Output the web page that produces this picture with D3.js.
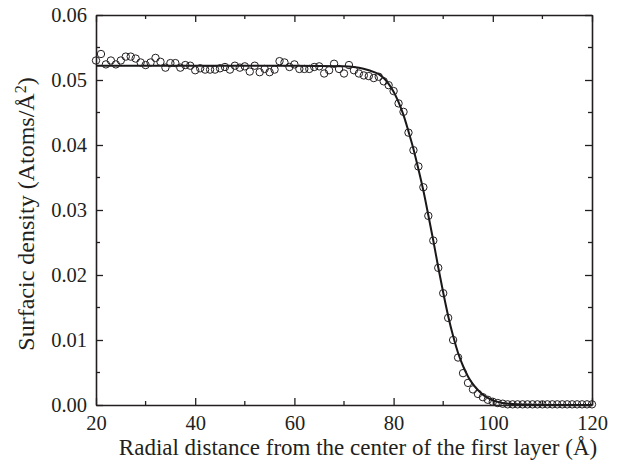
<!DOCTYPE html>
<html>
<head>
<meta charset="utf-8">
<script src="https://cdn.jsdelivr.net/npm/d3@7"></script>
<style>
  html, body { margin: 0; padding: 0; background: #fff; }
  svg { display: block; }
  text { font-family: "Liberation Serif", "Times New Roman", serif; fill: #231f20; }
</style>
</head>
<body>
<svg id="chart" width="618" height="470"></svg>
<script>
// Radial positions of the simulated points (Å)
const radius = [
  20, 21, 22, 23, 24, 25, 26, 27, 28, 29,
  30, 31, 32, 33, 34, 35, 36, 37, 38, 39,
  40, 41, 42, 43, 44, 45, 46, 47, 48, 49,
  50, 51, 52, 53, 54, 55, 56, 57, 58, 59,
  60, 61, 62, 63, 64, 65, 66, 67, 68, 69,
  70, 71, 72, 73, 74, 75, 76, 77, 78, 79,
  80, 81, 82, 83, 84, 85, 86, 87, 88, 89,
  90, 91, 92, 93, 94, 95, 96, 97, 98, 99,
  100, 101, 102, 103, 104, 105, 106, 107, 108, 109,
  110, 111, 112, 113, 114, 115, 116, 117, 118, 119,
  120
];

// Surfacic density of the simulated layer (atoms/Å²)
const density = [
  0.0530, 0.0540, 0.0524, 0.0530, 0.0524, 0.0530, 0.0536, 0.0536, 0.0533, 0.0527,
  0.0523, 0.0527, 0.0534, 0.0528, 0.0519, 0.0526, 0.0526, 0.0519, 0.0523, 0.0522,
  0.0515, 0.0518, 0.0516, 0.0516, 0.0516, 0.0518, 0.0520, 0.0516, 0.0522, 0.0519,
  0.0521, 0.0513, 0.0522, 0.0512, 0.0517, 0.0512, 0.0516, 0.0529, 0.0527, 0.0520,
  0.0524, 0.0517, 0.0517, 0.0517, 0.0520, 0.0521, 0.0510, 0.0515, 0.0525, 0.0517,
  0.0510, 0.0523, 0.0515, 0.0510, 0.0507, 0.0506, 0.0503, 0.0505, 0.0498, 0.0492,
  0.0483, 0.0464, 0.0451, 0.0419, 0.0392, 0.0367, 0.0335, 0.0291, 0.0253, 0.0211,
  0.0172, 0.0134, 0.0100, 0.0073, 0.0049, 0.0034, 0.0024, 0.0017, 0.0012, 0.0008,
  0.0005, 0.0003, 0.0002, 0.0001, 0.0001, 0.0001, 0.0001, 0.0001, 0.0001, 0.0001,
  0.0001, 0.0001, 0.0001, 0.0001, 0.0001, 0.0001, 0.0001, 0.0001, 0.0001, 0.0001,
  0.0001
];

// Fitted density profile
const fitRadius = [
  20, 40, 60, 70, 73, 75, 77, 78, 79,
  80, 81, 82, 83, 84, 85, 86, 87, 88, 89,
  90, 91, 92, 93, 94, 95, 96, 97, 98, 99,
  100, 102, 104, 106, 110, 120
];
const fitDensity = [
  0.0522, 0.0522, 0.0522, 0.0521, 0.0519, 0.0515, 0.0509, 0.0503, 0.0494,
  0.0482, 0.0466, 0.0446, 0.0421, 0.0394, 0.0363, 0.0330, 0.0292, 0.0253, 0.0212,
  0.0173, 0.0137, 0.0106, 0.0080, 0.0060, 0.0044, 0.0032, 0.0023, 0.0016, 0.0011,
  0.0007, 0.0003, 0.00015, 0.00007, 0.0, 0.0
];

// Axis ticks
const xTicks = [20, 40, 60, 80, 100, 120];
const xMinorTicks = [30, 50, 70, 90, 110];
const yTicks = [0.00, 0.01, 0.02, 0.03, 0.04, 0.05, 0.06];
const yMinorTicks = [0.005, 0.015, 0.025, 0.035, 0.045, 0.055];

const svg = d3.select("#chart");
const margin = { left: 96, right: 26, top: 15, bottom: 65 };
const W = 618, H = 470;

const x = d3.scaleLinear().domain([20, 120]).range([margin.left, W - margin.right]);
const y = d3.scaleLinear().domain([0, 0.06]).range([H - margin.bottom, margin.top]);

const axisColor = "#231f20";
const fmtY = d3.format(".2f");

// Frame axes with inward ticks
function styleAxis(g) {
  g.selectAll(".domain").attr("stroke", axisColor).attr("stroke-width", 1.6);
  g.selectAll(".tick line").attr("stroke", axisColor).attr("stroke-width", 1.3);
  g.selectAll(".tick text").style("font-size", "20.5px").attr("fill", axisColor);
}

const axisBottomG = svg.append("g").attr("transform", `translate(0,${y(0)})`)
  .call(d3.axisBottom(x).tickValues(xTicks).tickSize(-7).tickSizeOuter(0).tickPadding(10).tickFormat(d3.format("d")));
styleAxis(axisBottomG);
axisBottomG.append("g").selectAll("line").data(xMinorTicks).join("line")
  .attr("x1", d => x(d)).attr("x2", d => x(d)).attr("y1", 0).attr("y2", -4)
  .attr("stroke", axisColor).attr("stroke-width", 1.3);

const axisTopG = svg.append("g").attr("transform", `translate(0,${y(0.06)})`)
  .call(d3.axisTop(x).tickValues(xTicks).tickSize(-7).tickSizeOuter(0).tickFormat(""));
styleAxis(axisTopG);
axisTopG.append("g").selectAll("line").data(xMinorTicks).join("line")
  .attr("x1", d => x(d)).attr("x2", d => x(d)).attr("y1", 0).attr("y2", 4)
  .attr("stroke", axisColor).attr("stroke-width", 1.3);

const axisLeftG = svg.append("g").attr("transform", `translate(${x(20)},0)`)
  .call(d3.axisLeft(y).tickValues(yTicks).tickSize(-7).tickSizeOuter(0).tickPadding(9).tickFormat(fmtY));
styleAxis(axisLeftG);
axisLeftG.append("g").selectAll("line").data(yMinorTicks).join("line")
  .attr("y1", d => y(d)).attr("y2", d => y(d)).attr("x1", 0).attr("x2", 4)
  .attr("stroke", axisColor).attr("stroke-width", 1.3);

const axisRightG = svg.append("g").attr("transform", `translate(${x(120)},0)`)
  .call(d3.axisRight(y).tickValues(yTicks).tickSize(-7).tickSizeOuter(0).tickFormat(""));
styleAxis(axisRightG);
axisRightG.append("g").selectAll("line").data(yMinorTicks).join("line")
  .attr("y1", d => y(d)).attr("y2", d => y(d)).attr("x1", 0).attr("x2", -4)
  .attr("stroke", axisColor).attr("stroke-width", 1.3);

// Fitted curve
const fitData = fitRadius.map((r, i) => ({ r, v: fitDensity[i] }));
svg.append("path")
  .datum(fitData)
  .attr("fill", "none")
  .attr("stroke", "#1a1718")
  .attr("stroke-width", 2)
  .attr("d", d3.line().x(d => x(d.r)).y(d => y(d.v)).curve(d3.curveMonotoneX));

// Simulation points as open circles
const pts = radius.map((r, i) => ({ r, v: density[i] }));
svg.append("g").selectAll("circle").data(pts).join("circle")
  .attr("cx", d => x(d.r))
  .attr("cy", d => y(d.v))
  .attr("r", 3.7)
  .attr("fill", "none")
  .attr("stroke", "#231f20")
  .attr("stroke-width", 1);

// Axis titles
svg.append("text")
  .attr("x", 358)
  .attr("y", 455)
  .attr("text-anchor", "middle")
  .style("font-size", "23px")
  .text("Radial distance from the center of the first layer (Å)");

const yTitle = svg.append("text")
  .attr("transform", "translate(34,214) rotate(-90)")
  .attr("text-anchor", "middle")
  .style("font-size", "24px");
yTitle.append("tspan").text("Surfacic density (Atoms/Å");
yTitle.append("tspan").attr("dy", "-0.5em").style("font-size", "16px").text("2");
yTitle.append("tspan").attr("dy", "0.35em").text(")");
</script>
</body>
</html>
